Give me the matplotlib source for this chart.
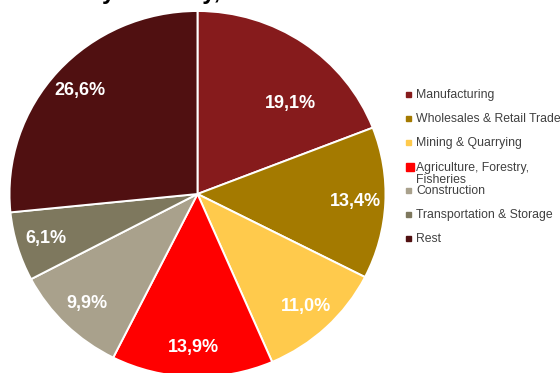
import matplotlib
matplotlib.use("Agg")
import matplotlib.pyplot as plt
import matplotlib.patches as mpatches
import numpy as np

plt.rcParams['font.family'] = ['Liberation Sans', 'DejaVu Sans']

# data
sectors = ['Manufacturing', 'Wholesales & Retail Trade', 'Mining & Quarrying',
           'Agriculture, Forestry,\nFisheries', 'Construction',
           'Transportation & Storage', 'Rest']
shares = [19.1, 13.4, 11.0, 13.9, 9.9, 6.1, 26.6]
colors = ['#861b1c', '#a47a00', '#ffca4c', '#ff0000', '#a9a18c', '#7e785e', '#501011']
title = 'GDP by Industry, 2013'

W, H = 560, 373
fig = plt.figure(figsize=(W / 100, H / 100), dpi=100)

# pie is slightly squashed vertically in the original
cx, cy, rx, ry = 197.5, 194, 188, 183
ax = fig.add_axes([(cx - rx) / W, (H - cy - ry) / H, 2 * rx / W, 2 * ry / H])

wedges, texts, autotexts = ax.pie(
    shares, colors=colors, startangle=90, counterclock=False,
    autopct=lambda p: ('%.1f%%' % p).replace('.', ','), pctdistance=0.84,
    wedgeprops=dict(edgecolor='white', linewidth=1.4),
    textprops=dict(color='white', fontsize=13, fontweight='bold'))
ax.set_aspect('auto')
ax.set_xlim(-1, 1)
ax.set_ylim(-1, 1)

# Excel nudged the first label toward the middle a bit
ang = np.deg2rad(45)
autotexts[0].set_position((0.70 * np.cos(ang), 0.70 * np.sin(ang)))

# legend drawn by hand so the two-line entry overlaps like the original
top = 95
for i, (name, c) in enumerate(zip(sectors, colors)):
    yy = top + i * 24
    if '\n' in name:
        sq = mpatches.Rectangle((406 / W, 1 - (yy + 4) / H), 8 / W, 8 / H,
                                transform=fig.transFigure, color=c)
        fig.text(416 / W, 1 - (yy - 5) / H, name, fontsize=8.8, color='#404040',
                 va='top', ha='left', linespacing=0.98)
    else:
        sq = mpatches.Rectangle((406 / W, 1 - (yy + 2) / H), 5 / W, 5 / H,
                                transform=fig.transFigure, color=c)
        fig.text(416 / W, 1 - yy / H, name, fontsize=8.8, color='#404040',
                 va='center', ha='left')
    fig.patches.append(sq)

# title sits mostly above the visible area
fig.text(30 / W, 1 + 1 / H, title, fontsize=17, fontweight='bold',
         color='black', ha='left', va='baseline')

fig.savefig('out.png', dpi=100)
